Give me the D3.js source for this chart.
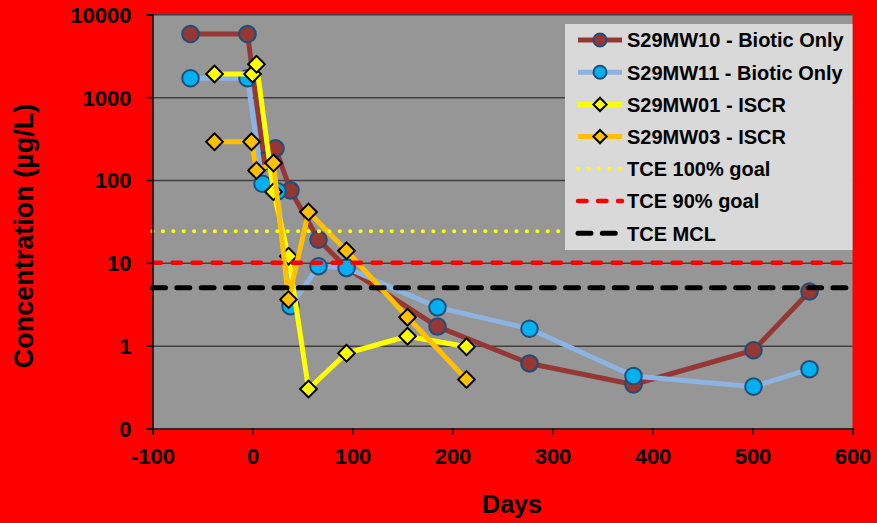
<!DOCTYPE html>
<html>
<head>
<meta charset="utf-8">
<script src="https://cdn.jsdelivr.net/npm/d3@7"></script>
<style>
  html, body { margin: 0; padding: 0; background: #FF0000; }
  svg { display: block; }
  text { font-family: "Liberation Sans", Arial, sans-serif; font-weight: bold; fill: #000; }
</style>
</head>
<body>
<svg id="chart" width="877" height="523"></svg>
<script>
// Sampling days and TCE concentrations (µg/L) per well
const days10 = [-62, -5, 12, 23, 38, 66, 94, 185, 277, 381, 501, 557];
const mw10   = [5780, 5780, 170, 241, 75, 19, 8.7, 1.7, 0.61, 0.34, 0.88, 4.5];

const days11 = [-62, -5, 10, 25, 38, 66, 94, 185, 277, 381, 501, 557];
const mw11   = [1690, 1690, 90, 73, 3.0, 9.1, 8.7, 2.9, 1.6, 0.43, 0.32, 0.52];

const days01 = [-38, 0, 4, 21, 36, 56, 94, 155, 214];
const mw01   = [1900, 1900, 2500, 72, 12, 0.30, 0.81, 1.3, 0.97];

const days03 = [-38, -1, 4, 21, 36, 56, 94, 155, 214];
const mw03   = [290, 290, 130, 160, 3.6, 41, 14, 2.2, 0.39];

// Reference levels
const goalDays = [-100, 600];
const goal100 = 24;
const goal90 = 10;
const mcl = 5;

// Axis ticks
const xTicks = [-100, 0, 100, 200, 300, 400, 500, 600];
const xTickLabels = ["-100", "0", "100", "200", "300", "400", "500", "600"];
const yTicks = [10000, 1000, 100, 10, 1, 0.1];
const yTickLabels = ["10000", "1000", "100", "10", "1", "0"];

const seriesNames = ["S29MW10 - Biotic Only", "S29MW11 - Biotic Only", "S29MW01 - ISCR", "S29MW03 - ISCR",
                     "TCE 100% goal", "TCE 90% goal", "TCE MCL"];

const svg = d3.select("#chart");
const W = 877, H = 523;
const plot = { left: 152.5, right: 852.5, top: 14.3, bottom: 428.5 };

svg.append("rect").attr("width", W).attr("height", H).attr("fill", "#FF0000");

const x = d3.scaleLinear().domain([-100, 600]).range([plot.left, plot.right]);
const y = d3.scaleLog().domain([0.1, 10000]).range([plot.bottom, plot.top]);

// plot area
svg.append("rect")
  .attr("x", plot.left).attr("y", plot.top)
  .attr("width", plot.right - plot.left).attr("height", plot.bottom - plot.top)
  .attr("fill", "#969696");

// horizontal gridlines
svg.append("g")
  .attr("transform", `translate(${plot.left},0)`)
  .call(d3.axisLeft(y).tickValues(yTicks).tickSize(-(plot.right - plot.left)).tickFormat(""))
  .call(g => g.select(".domain").remove())
  .call(g => g.selectAll("line").attr("stroke", "#404040").attr("stroke-width", 1.5));

// series
const pack = (ds, vs) => ds.map((d, i) => ({ d, v: vs[i] }));
const series = [
  { data: pack(days10, mw10), line: "#953735", fill: "#953735", stroke: "#1F4E79", shape: "circle" },
  { data: pack(days11, mw11), line: "#8DB3E2", fill: "#00B0F0", stroke: "#1F4E79", shape: "circle" },
  { data: pack(days01, mw01), line: "#FFFF00", fill: "#FFFF00", stroke: "#000000", shape: "diamond" },
  { data: pack(days03, mw03), line: "#FFC000", fill: "#FFC000", stroke: "#000000", shape: "diamond" }
];

const lineGen = d3.line().x(p => x(p.d)).y(p => y(p.v));
const diamond = d3.symbol(d3.symbolSquare, 140);
const diamondSmall = d3.symbol(d3.symbolSquare, 88);

function drawMarker(g, s, cx, cy, small) {
  if (s.shape === "circle") {
    g.append("circle").attr("cx", cx).attr("cy", cy).attr("r", small ? 6.5 : 8.3)
      .attr("fill", s.fill).attr("stroke", s.stroke).attr("stroke-width", 2);
  } else {
    g.append("path").attr("d", small ? diamondSmall() : diamond())
      .attr("transform", `translate(${cx},${cy}) rotate(45)`)
      .attr("fill", s.fill).attr("stroke", s.stroke).attr("stroke-width", 2);
  }
}

series.forEach(s => {
  const g = svg.append("g");
  g.append("path").datum(s.data).attr("d", lineGen)
    .attr("fill", "none").attr("stroke", s.line).attr("stroke-width", 5)
    .attr("stroke-linejoin", "round");
  s.data.forEach(p => drawMarker(g, s, x(p.d), y(p.v), false));
});

// reference levels
const goals = [
  { v: goal100, color: "#FFFF00", width: 4, dash: "0.1 10.3" },
  { v: goal90, color: "#FF0000", width: 4.5, dash: "8.5 11.5" },
  { v: mcl, color: "#000000", width: 5, dash: "13 11.3" }
];
goals.forEach(gl => {
  svg.append("path")
    .datum(goalDays.map(d => ({ d, v: gl.v })))
    .attr("d", lineGen)
    .attr("fill", "none").attr("stroke", gl.color).attr("stroke-width", gl.width)
    .attr("stroke-dasharray", gl.dash).attr("stroke-linecap", "round");
});

// axes
const yAxis = svg.append("g")
  .attr("transform", `translate(${plot.left},0)`)
  .call(d3.axisLeft(y).tickValues(yTicks).tickSize(6).tickPadding(15)
        .tickFormat((d, i) => yTickLabels[i]));
yAxis.select(".domain").attr("stroke", "#000").attr("stroke-width", 1.5);
yAxis.selectAll(".tick line").attr("stroke", "#000").attr("stroke-width", 1.5);
yAxis.selectAll(".tick text").attr("font-size", 22).attr("font-family", null).attr("dy", "0.36em");

const xAxis = svg.append("g")
  .attr("transform", `translate(0,${plot.bottom})`)
  .call(d3.axisBottom(x).tickValues(xTicks).tickSize(6).tickPadding(14)
        .tickFormat((d, i) => xTickLabels[i]));
xAxis.select(".domain").attr("stroke", "#202020").attr("stroke-width", 1.5);
xAxis.selectAll(".tick line").attr("stroke", "#000").attr("stroke-width", 1.5);
xAxis.selectAll(".tick text").attr("font-size", 22).attr("font-family", null);

// axis titles
svg.append("text")
  .attr("transform", "translate(33,236) rotate(-90)")
  .attr("text-anchor", "middle").attr("font-size", 27)
  .text("Concentration (µg/L)");

svg.append("text")
  .attr("x", 512).attr("y", 513).attr("text-anchor", "middle").attr("font-size", 25)
  .text("Days");

// legend
const legend = svg.append("g");
legend.append("rect").attr("x", 565).attr("y", 24).attr("width", 287.5).attr("height", 226)
  .attr("fill", "#D9D9D9");

seriesNames.forEach((name, i) => {
  const cy = 40 + i * 32.2;
  const row = legend.append("g");
  if (i < 4) {
    const s = series[i];
    row.append("line").attr("x1", 578).attr("x2", 622).attr("y1", cy).attr("y2", cy)
      .attr("stroke", s.line).attr("stroke-width", 5);
    drawMarker(row, s, 600, cy, true);
  } else {
    const gl = goals[i - 4];
    row.append("line").attr("x1", 578).attr("x2", 622).attr("y1", cy).attr("y2", cy)
      .attr("stroke", gl.color).attr("stroke-width", gl.width)
      .attr("stroke-dasharray", gl.dash).attr("stroke-linecap", "round");
  }
  row.append("text").attr("x", 627).attr("y", cy + 7.3).attr("font-size", 20).text(name);
});
</script>
</body>
</html>
